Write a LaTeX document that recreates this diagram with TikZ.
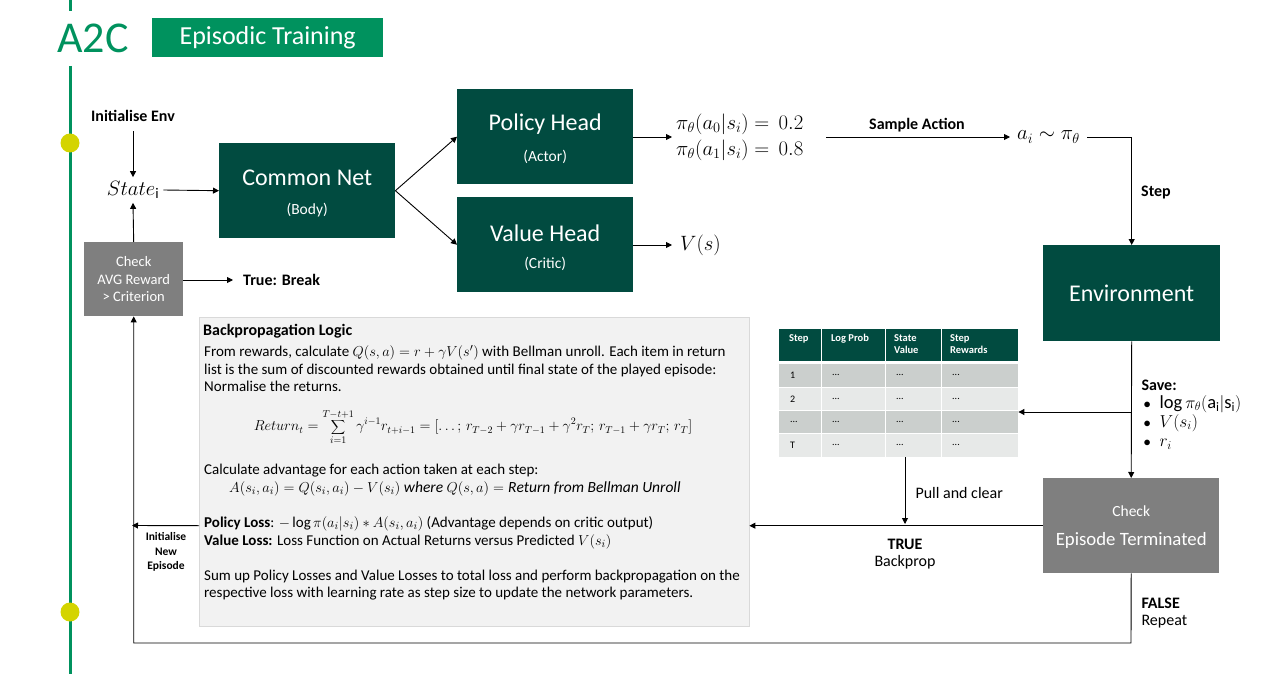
\documentclass[tikz,border=0pt]{standalone}
\usepackage{fontspec}
\setmainfont{Carlito}
\usetikzlibrary{arrows.meta,calc}
\definecolor{dkgreen}{RGB}{1,75,64}
\definecolor{ttlgreen}{RGB}{0,146,94}
\definecolor{boxgray}{RGB}{127,127,127}
\definecolor{dotyellow}{RGB}{212,212,0}
\definecolor{bpfill}{RGB}{242,242,242}
\definecolor{bpdraw}{RGB}{217,217,217}
\definecolor{rowdark}{RGB}{203,207,205}
\definecolor{rowlight}{RGB}{231,233,232}
\newcommand\fsz[2]{\fontsize{#1pt}{#2pt}\selectfont}
\newcommand\tdots{...}
\tikzset{
  dbox/.style={fill=dkgreen, text=white, anchor=north west, inner sep=0pt, minimum width=176pt, minimum height=95pt},
  gbox/.style={fill=boxgray, text=white, anchor=north west, inner sep=0pt},
  big/.style={text=white, font=\fsz{24}{28}},
  small/.style={text=white, font=\fsz{15.5}{18}},
  arr/.style={-{Triangle[length=6pt,width=6pt]}, line width=0.9pt},
  lbl/.style={font=\bfseries\fsz{16}{19}},
  reg/.style={font=\fsz{16}{19}},
  mth/.style={font=\fsz{22.5}{26}},
  body/.style={anchor=west, font=\fsz{15}{17}, inner sep=0pt},
  hdr/.style={anchor=north west, text=white, font=\bfseries\fsz{10.5}{12.5}, align=left, inner sep=0pt},
  cell/.style={anchor=west, font=\fsz{10}{12}, inner sep=0pt}
}
\begin{document}
\begin{tikzpicture}[x=1pt,y=-1pt]
\useasboundingbox (0,0) rectangle (1280,674);
% timeline
\draw[ttlgreen, line width=3pt] (70,0) -- (70,11);
\draw[ttlgreen, line width=3pt] (70,66) -- (70,674);
\fill[dotyellow] (70,143) circle (9.5pt);
\fill[dotyellow] (70,612) circle (9.5pt);
\node[text=ttlgreen, font=\fsz{44}{50}] (a2c) at (93,38) {A2C};
\node[fill=ttlgreen, text=white, anchor=north west, inner sep=0pt, minimum width=231pt, minimum height=39pt, font=\fsz{26}{30}] (ept) at (152,18) {Episodic Training};

% main boxes
\node[dbox] (cn) at (219,143) {};
\node[big] (cnt) at ([yshift=12.5pt]cn.center) {Common Net};
\node[small] (cns) at ([yshift=-19.5pt]cn.center) {(Body)};
\node[dbox] (pol) at (457,89) {};
\node[big] (polt) at ([yshift=12.5pt]pol.center) {Policy Head};
\node[small] (pols) at ([yshift=-20.5pt]pol.center) {(Actor)};
\node[dbox] (val) at (457,197) {};
\node[big] (valt) at ([yshift=11.5pt]val.center) {Value Head};
\node[small] (vals) at ([yshift=-19.5pt]val.center) {(Critic)};
\node[dbox, minimum width=177pt, minimum height=96pt, font=\fsz{24}{28}] (env) at (1043,245) {Environment};
\node[gbox, minimum width=176pt, minimum height=95pt] (term) at (1043,478) {};
\node[text=white, font=\fsz{15.5}{18}] (termc) at ([yshift=14.5pt]term.center) {Check};
\node[text=white, font=\fsz{18.8}{23}] (termt) at ([yshift=-14.5pt]term.center) {Episode Terminated};
\node[gbox, minimum width=99pt, minimum height=74pt, align=center, font=\fsz{14.5}{17.5}] (chk) at (84,242) {Check\\AVG Reward\\> Criterion};

% left side
\node[lbl] (init) at (133,116) {Initialise Env};
\node[mth, inner sep=4pt, font=\fsz{21}{26}] (state) at (133,190) {$State_{\mathrm{i}}$};
\draw[arr, shorten <=6pt] (init.south) -- (state.north);
\draw[arr] (state.east) -- (cn.west);
\draw[arr] (chk.north) -- (state.south);
\node[lbl, anchor=west, inner xsep=10pt] (brk) at (233,280) {True: Break};
\draw[arr] (chk.east |- brk.west) -- (brk.west);

% heads
\draw[arr] (cn.east) -- (pol.west);
\draw[arr] (cn.east) -- (val.west);
\node[mth, anchor=west, align=left, inner sep=4pt] (probs) at (672,137) {$\pi_\theta(a_0|s_i) =\, 0.2$\\$\pi_\theta(a_1|s_i) =\, 0.8$};
\draw[arr] (pol.east |- probs.west) -- (probs.west);
\node[mth, anchor=west, inner sep=8pt] (vs) at (672,245) {$V(s)$};
\draw[arr] (val.east |- vs.west) -- (vs.west);
\node[mth, anchor=west, inner sep=7pt] (ai) at (1010,137) {$a_i \sim \pi_\theta$};
\coordinate (probsend) at (826,137);
\draw[arr] (probsend) -- (ai.west);
\node[lbl] (samp) at (917,125) {Sample Action};
\draw[arr] (ai.east) -| (env.north);
\node[lbl] (stp) at (1156,193) {Step};

% table
\node[anchor=north west, inner sep=0pt, minimum width=239pt, minimum height=128pt] (tbl) at (779,329) {};
\foreach \xa/\xb in {779/821,822/885,886/941,942/1018}{
  \fill[dkgreen] (\xa,329) rectangle (\xb,361);
  \fill[rowdark] (\xa,364) rectangle (\xb,387);
  \fill[rowlight] (\xa,388) rectangle (\xb,410);
  \fill[rowdark] (\xa,411) rectangle (\xb,433);
  \fill[rowlight] (\xa,434) rectangle (\xb,457);
}
\node[hdr] (h1) at (789,334) {Step};
\node[hdr] (h2) at (831,334) {Log Prob};
\node[hdr] (h3) at (894,334) {State\\Value};
\node[hdr] (h4) at (950,334) {Step\\Rewards};
\foreach \r/\y/\lab in {1/375/1,2/399/2,3/422/\tdots,4/445/T}{
  \node[cell] (c\r a) at (790,\y) {\lab};
  \node[cell] (c\r b) at (832,\y) {\tdots};
  \node[cell] (c\r c) at (896,\y) {\tdots};
  \node[cell] (c\r d) at (952,\y) {\tdots};
}

% right flow
\draw[arr] (env.south) -- (term.north);
\coordinate (br) at (1131.5,412);
\draw[arr] (br) -- (tbl.east |- br);
\node[lbl, anchor=west] (save) at (1138,385) {Save:};
\node[anchor=west, font=\fsz{15}{18}] (b1) at (1140,404) {$\bullet$\hspace{9pt}{\fsz{18.5}{20}$\log\pi_\theta(\mathrm{a_i}|\mathrm{s_i})$}};
\node[anchor=west, font=\fsz{15}{18}] (b2) at (1140,423) {$\bullet$\hspace{9pt}{\fsz{18.5}{20}$V(s_i)$}};
\node[anchor=west, font=\fsz{15}{18}] (b3) at (1140,444) {$\bullet$\hspace{9pt}{\fsz{18.5}{20}$r_i$}};

% backprop box
\node[fill=bpfill, draw=bpdraw, anchor=north west, inner sep=0pt, minimum width=550pt, minimum height=309pt] (bp) at (199,317) {};
\node[body, font=\bfseries\fsz{16}{18}] (l0) at (203,331) {Backpropagation Logic};
\node[body] (l1) at (204,353) {From rewards, calculate $Q(s,a) = r + \gamma V(s')$ with Bellman unroll. Each item in return};
\node[body] (l2) at (204,370) {list is the sum of discounted rewards obtained until final state of the played episode:};
\node[body] (l3) at (204,386) {Normalise the returns.};
\node[font=\fsz{14.3}{17}, inner sep=0pt] (l4) at (473,427) {$\displaystyle Return_t = \sum_{i=1}^{T-t+1} \gamma^{i-1} r_{t+i-1} = [\dots;\, r_{T-2}+\gamma r_{T-1}+\gamma^2 r_T;\, r_{T-1}+\gamma r_T;\, r_T]$};
\node[body] (l5) at (204,471) {Calculate advantage for each action taken at each step:};
\node[body, font=\fsz{15.5}{17}] (l6) at (229,489) {$A(s_i,a_i) = Q(s_i,a_i) - V(s_i)\ \mathit{where}\ Q(s,a) = \mathit{Return\ from\ Bellman\ Unroll}$};
\node[body] (l7) at (204,524) {\textbf{Policy Loss}: $-\log\pi(a_i|s_i) * A(s_i,a_i)$ (Advantage depends on critic output)};
\node[body] (l8) at (204,542) {\textbf{Value Loss:} Loss Function on Actual Returns versus Predicted $V(s_i)$};
\node[body] (l9) at (204,577) {Sum up Policy Losses and Value Losses to total loss and perform backpropagation on the};
\node[body] (l10) at (204,594) {respective loss with learning rate as step size to update the network parameters.};

% backprop flow
\draw[arr] (term.west) -- (bp.east |- term.west);
\coordinate (ine) at (132,525.5);
\draw[arr] (bp.west |- term.west) -- (ine);
\node[align=center, font=\bfseries\fsz{11.5}{14.3}] (inlbl) at (166,552) {Initialise\\New\\Episode};
\coordinate (pulltop) at (905,457);
\coordinate (pullend) at (905,524);
\draw[arr] (pulltop) -- (pullend);
\node[reg, anchor=west] (pull) at (912,493) {Pull and clear};
\node[lbl] (tru) at (905,544) {TRUE};
\node[reg] (bk) at (905,562) {Backprop};
\coordinate (lc1) at (1131,643);
\draw[arr] (term.south) -- (lc1) -| (chk.south);
\node[lbl, anchor=west] (fls) at (1138,603) {FALSE};
\node[reg, anchor=west] (rep) at (1138,622) {Repeat};
\end{tikzpicture}
\end{document}
